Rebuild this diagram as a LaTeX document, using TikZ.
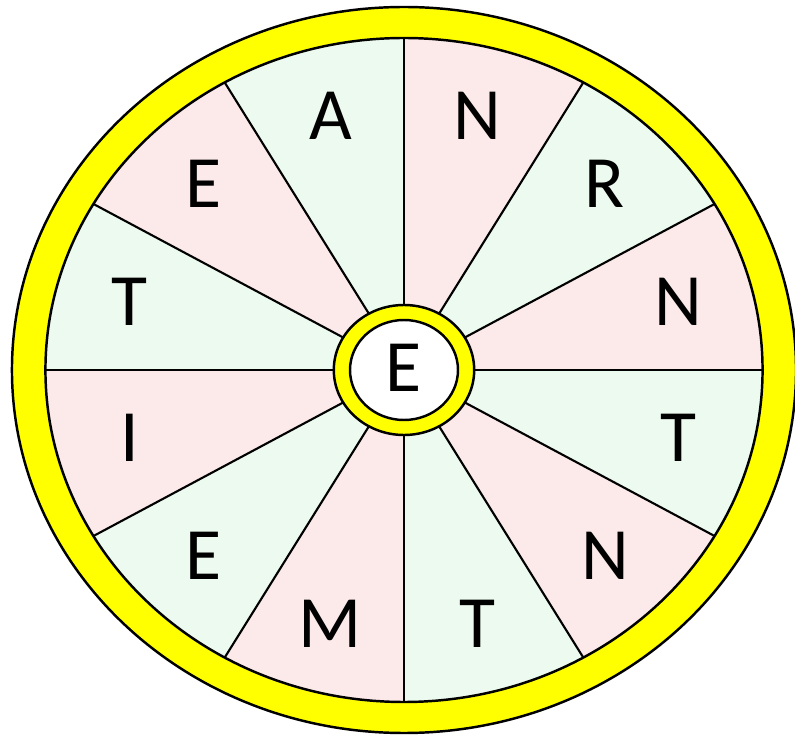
\documentclass[tikz,border=0pt]{standalone}
\usepackage{fontspec}
\setmainfont{Carlito}
\definecolor{ringyellow}{RGB}{255,255,0}
\definecolor{pinkfill}{RGB}{252,234,234}
\definecolor{greenfill}{RGB}{236,250,239}
\tikzset{
  letter/.style={font=\fontsize{42}{42}\selectfont, inner sep=0pt, text=black},
  spoke/.style={draw=black, line width=1.2pt},
  rim/.style={draw=black, line width=1.4pt}
}
\begin{document}
\begin{tikzpicture}[x=0.02cm,y=-0.02cm]
\useasboundingbox (0,0) rectangle (795,736);
\begin{scope}[shift={(404,370)}, xscale=1.08, yscale=-1]
  % sectors
  \foreach \i in {0,...,11}{
    \pgfmathsetmacro{\sa}{90-30*\i}
    \pgfmathsetmacro{\ea}{60-30*\i}
    \ifodd\i
      \fill[greenfill] (0,0) -- (\sa:332) arc[start angle=\sa, end angle=\ea, radius=332] -- cycle;
    \else
      \fill[pinkfill] (0,0) -- (\sa:332) arc[start angle=\sa, end angle=\ea, radius=332] -- cycle;
    \fi
  }
  % spokes
  \foreach \a in {0,30,...,330}{
    \draw[spoke] (\a:60) -- (\a:333);
  }
  % outer ring
  \fill[ringyellow, even odd rule] (0,0) circle (363) (0,0) circle (332);
  \draw[rim] (0,0) circle (363);
  \draw[rim] (0,0) circle (332);
  % hub
  \fill[ringyellow] (0,0) circle (65);
  \draw[rim] (0,0) circle (65);
  \fill[white] (0,0) circle (50);
  \draw[rim] (0,0) circle (50);
  % letters
  \node[letter] (c)  at (0,2) {E};
  \node[letter] (l1)  at (75:263)   {N};
  \node[letter] (l2)  at (45:263)   {R};
  \node[letter] (l3)  at (15:263)   {N};
  \node[letter] (l4)  at (-15:263)  {T};
  \node[letter] (l5)  at (-45:263)  {N};
  \node[letter] (l6)  at (-75:263)  {T};
  \node[letter] (l7)  at (-105:263) {M};
  \node[letter] (l8)  at (-135:263) {E};
  \node[letter] (l9)  at (-165:263) {I};
  \node[letter] (l10) at (165:263)  {T};
  \node[letter] (l11) at (135:263)  {E};
  \node[letter] (l12) at (105:263)  {A};
\end{scope}
\end{tikzpicture}
\end{document}
